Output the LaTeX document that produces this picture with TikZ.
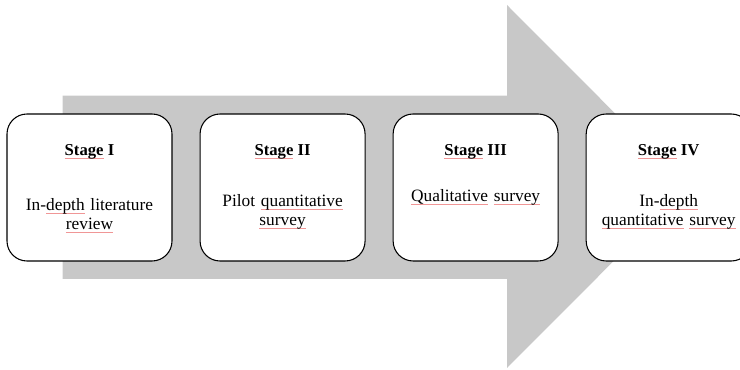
\documentclass[tikz,border=0pt]{standalone}
\usepackage{fontspec}
\setmainfont{Liberation Serif}
\usepackage{xcolor}
\usepackage{tikz}
\usetikzlibrary{positioning,calc}

\definecolor{arrowgray}{RGB}{200,200,200}
\definecolor{spellred}{RGB}{240,150,150}
\newcommand{\spellmark}[1]{\leavevmode\setbox0\hbox{#1}\rlap{\textcolor{spellred}{\rule[-3pt]{\wd0}{0.75pt}}}\box0\relax}

\begin{document}
\begin{tikzpicture}[
    x=0.75pt, y=-0.75pt,
    node distance = 20.25pt,
    stagebox/.style = {rectangle, draw, line width=0.8pt, fill=white, minimum width=123.75pt, minimum height=110.25pt, rounded corners=15pt},
    stagetitle/.style = {anchor=base, font=\fontsize{12.5}{14.25}\selectfont\bfseries},
    stagetext/.style = {anchor=base, text width=122pt, align=center, inner sep=0pt, font=\fontsize{13}{14.25}\selectfont}
]
    \useasboundingbox (0,0) rectangle (740,370);

    % Big arrow
    \fill[arrowgray] (62.7,95.7) -- (507,95.7) -- (507,5) -- (688,186.5)
        -- (507,368) -- (507,279) -- (62.7,279) -- cycle;

    % Stages
    \node[stagebox] (stage1) at (89.5,187.5) {};
    \node[stagebox, right=of stage1] (stage2) {};
    \node[stagebox, right=of stage2] (stage3) {};
    \node[stagebox, right=of stage3] (stage4) {};

    % Titles
    \node[stagetitle] (title1) at ($(stage1.north)+(0,42)$) {\spellmark{Stage} I};
    \node[stagetitle] (title2) at ($(stage2.north)+(0,42)$) {\spellmark{Stage} II};
    \node[stagetitle] (title3) at ($(stage3.north)+(0,42)$) {\spellmark{Stage} III};
    \node[stagetitle] (title4) at ($(stage4.north)+(0,42)$) {\spellmark{Stage} IV};

    % Descriptions
    \node[stagetext] (text1) at ($(stage1.north)+(0,97)$) {In-\spellmark{depth} literature\\\spellmark{review}};
    \node[stagetext] (text2) at ($(stage2.north)+(0,93)$) {Pilot \spellmark{quantitative}\\\spellmark{survey}};
    \node[stagetext] (text3) at ($(stage3.north)+(0,88)$) {\spellmark{Qualitative} \spellmark{survey}};
    \node[stagetext] (text4) at ($(stage4.north)+(0,93)$) {In-\spellmark{depth}\\\spellmark{quantitative} \spellmark{survey}};

\end{tikzpicture}
\end{document}
